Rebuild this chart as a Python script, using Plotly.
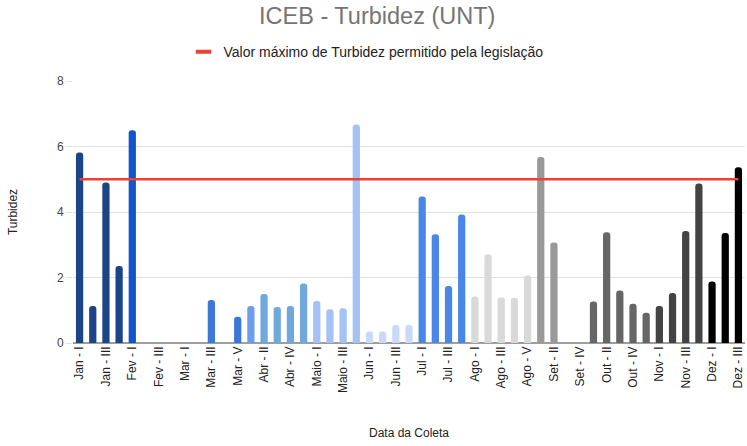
import plotly.graph_objects as go

categories = [
    "Jan - I", "Jan - II", "Jan - III", "Jan - IV",
    "Fev - I", "Fev - II", "Fev - III", "Fev - IV",
    "Mar - I", "Mar - II", "Mar - III", "Mar - IV", "Mar - V",
    "Abr - I", "Abr - II", "Abr - III", "Abr - IV", "Abr - V",
    "Maio - I", "Maio - II", "Maio - III", "Maio - IV",
    "Jun - I", "Jun - II", "Jun - III", "Jun - IV",
    "Jul - I", "Jul - II", "Jul - III", "Jul - IV",
    "Ago - I", "Ago - II", "Ago - III", "Ago - IV", "Ago - V",
    "Set - I", "Set - II", "Set - III", "Set - IV",
    "Out - I", "Out - II", "Out - III", "Out - IV", "Out - V",
    "Nov - I", "Nov - II", "Nov - III", "Nov - IV",
    "Dez - I", "Dez - II", "Dez - III",
]

turbidez = [
    5.82, 1.13, 4.9, 2.35,
    6.5, 0, 0, 0,
    0, 0, 1.31, 0, 0.8,
    1.13, 1.5, 1.1, 1.13, 1.82,
    1.28, 1.03, 1.06, 6.67,
    0.35, 0.35, 0.55, 0.55,
    4.47, 3.32, 1.74, 3.92,
    1.42, 2.71, 1.39, 1.38, 2.06,
    5.68, 3.07, 0, 0,
    1.27, 3.38, 1.6, 1.2, 0.92,
    1.13, 1.53, 3.42, 4.87,
    1.88, 3.36, 5.37,
]

limite = 5
limite_nome = "Valor máximo de Turbidez permitido pela legislação"

tick_labels = categories[::2]

bar_colors = (
    ["#1c4587"] * 4 + ["#1155cc"] * 4 + ["#3c78d8"] * 5 +
    ["#6d9eeb"] + ["#6fa8dc"] * 4 + ["#a4c2f4"] * 4 + ["#c9daf8"] * 4 +
    ["#4a86e8"] * 4 + ["#d9d9d9"] * 5 + ["#999999"] * 4 + ["#666666"] * 5 +
    ["#434343"] * 4 + ["#000000"] * 3
)

RED = "#ea4335"

fig = go.Figure()
fig.add_trace(go.Bar(
    x=categories, y=turbidez,
    marker=dict(color=bar_colors, cornerradius=3, line=dict(width=0)),
    showlegend=False,
))
fig.add_trace(go.Scatter(
    x=categories, y=[limite] * len(categories),
    mode="lines", name=limite_nome, showlegend=False,
    line=dict(color=RED, width=2.5),
))
# legend entry with a short thick red dash
fig.add_trace(go.Scatter(
    x=[None], y=[None], mode="markers", name=limite_nome,
    marker=dict(symbol="line-ew-open", size=11, color=RED,
                line=dict(color=RED, width=4)),
))

fig.update_layout(
    width=747, height=446,
    paper_bgcolor="white", plot_bgcolor="white",
    margin=dict(l=73, r=2, t=81, b=103, autoexpand=False),
    bargap=0.45,
    font=dict(family="Liberation Sans, Arial, sans-serif", color="#444444", size=12),
    title=dict(text="ICEB - Turbidez (UNT)", x=0.505, xref="container", xanchor="center",
               y=0.965, yref="container", yanchor="middle",
               font=dict(size=23.5, color="#757575")),
    legend=dict(orientation="h", x=0.49, xref="container", xanchor="center",
                y=0.883, yref="container", yanchor="middle",
                font=dict(size=14, color="#222222"), itemwidth=30),
    xaxis=dict(
        type="category", automargin=False,
        tickmode="array", tickvals=tick_labels, ticktext=tick_labels,
        tickangle=-90, tickfont=dict(size=12, color="#222222"),
        showgrid=False, showline=False, ticks="",
        title=dict(text="Data da Coleta", font=dict(size=12, color="#222222"), standoff=36),
        range=[-0.5, len(categories) - 0.5],
    ),
    yaxis=dict(
        automargin=False,
        range=[0, 8], tickvals=[0, 2, 4, 6, 8],
        gridcolor="#e0e0e0", gridwidth=1,
        zeroline=True, zerolinecolor="#9e9e9e", zerolinewidth=2,
        ticks="outside", ticklen=6, tickcolor="#e0e0e0",
        tickfont=dict(size=12, color="#444444"),
        title=dict(text="Turbidez", font=dict(size=12, color="#222222"), standoff=36),
    ),
)

fig.write_html("out.html", config={"displayModeBar": False},
               post_script="document.body.style.margin='0';")
